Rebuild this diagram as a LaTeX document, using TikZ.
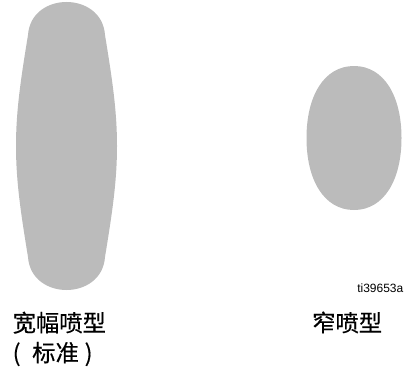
\documentclass[tikz,border=0pt]{standalone}
\usepackage{fontspec}
\setmainfont{Liberation Sans}
\newfontfamily\cjk[FakeBold=0.4]{Noto Sans CJK SC}
\usepackage{xcolor}
\definecolor{spraygray}{RGB}{187, 187, 187}

\begin{document}
\begin{tikzpicture}[
                x=1pt, y=-1pt,
                pattern/.style={fill=spraygray, draw=none},
                caption/.style={inner sep=0pt, anchor=base west,
                    font=\cjk\fontsize{23.3}{30}\selectfont},
                tag/.style={inner sep=0pt, anchor=base east,
                    font=\fontsize{12}{14}\selectfont}
            ]
                \useasboundingbox (0,0) rectangle (406,369);
                % wide (standard) fan
                \fill[pattern] (28,35) .. controls (31,-9) and (102,-9) .. (105,35)
                    .. controls (112,78) and (117,110) .. (117,146)
                    .. controls (117,182) and (112,214) .. (105,257)
                    .. controls (102,301) and (31,301) .. (28,257)
                    .. controls (21,214) and (16,182) .. (16,146)
                    .. controls (16,110) and (21,78) .. (28,35) -- cycle;
                % narrow fan
                \fill[pattern] (354,66) .. controls (384,66) and (401.5,96) .. (401.5,138)
                    .. controls (401.5,180) and (384,210) .. (354,210)
                    .. controls (324,210) and (306.5,180) .. (306.5,138)
                    .. controls (306.5,96) and (324,66) .. (354,66) -- cycle;
                \node[caption] (wide)   at (12.5,331.5) {宽幅喷型};
                \node[caption] (std)    at (12.5,361.5) {(\hspace{0.5em}标准\hspace{0.25em})};
                \node[caption] (narrow) at (312,331.5)  {窄喷型};
                \node[tag]     (fig)    at (403.5,292)  {ti39653a};
            \end{tikzpicture}
\end{document}
